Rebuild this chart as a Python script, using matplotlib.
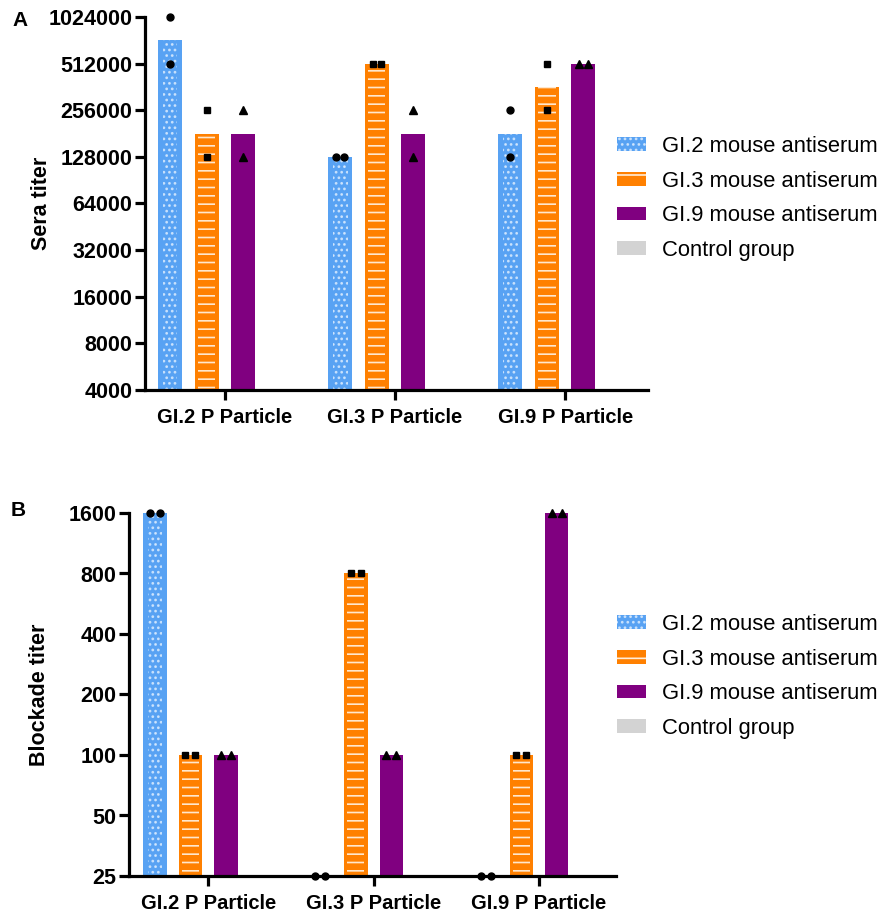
import numpy as np
import matplotlib
matplotlib.use("Agg")
import matplotlib.pyplot as plt
from matplotlib.patches import Patch

plt.rcParams['font.family'] = ['Liberation Sans', 'DejaVu Sans']
plt.rcParams['hatch.linewidth'] = 1.2

# ---------------- data ----------------
particles = ["GI.2 P Particle", "GI.3 P Particle", "GI.9 P Particle"]
series = ["GI.2 mouse antiserum", "GI.3 mouse antiserum", "GI.9 mouse antiserum", "Control group"]

# Panel A: sera titer, two replicate mice per bar (rows = particle)
sera_gi2 = [[1024000, 512000], [128000, 128000], [256000, 128000]]
sera_gi3 = [[256000, 128000], [512000, 512000], [512000, 256000]]
sera_gi9 = [[256000, 128000], [256000, 128000], [512000, 512000]]
sera_ticks = [4000, 8000, 16000, 32000, 64000, 128000, 256000, 512000, 1024000]

# Panel B: blockade titer
block_gi2 = [[1600, 1600], [25, 25], [25, 25]]
block_gi3 = [[100, 100], [800, 800], [100, 100]]
block_gi9 = [[100, 100], [100, 100], [1600, 1600]]
block_ticks = [25, 50, 100, 200, 400, 800, 1600]

# ---------------- style ----------------
c_blue = '#58a2f3'
c_orange = '#ff8000'
c_purple = '#800080'
c_gray = '#d3d3d3'
colors = [c_blue, c_orange, c_purple, c_gray]
markers = ['o', 's', '^']
msizes = [5, 5, 6]
dot_col = (0.9, 0.95, 1.0, 0.75)

fig = plt.figure(figsize=(8.83, 9.13), dpi=100)
W, H = 883, 913


def px_axes(l, r, t, b):
    return fig.add_axes([l / W, 1 - b / H, (r - l) / W, (b - t) / H])


def draw_panel(ax, data, ticks, ylabel, xlim, jit, label_x):
    G = 4.66
    bw = 0.66
    ymin, ymax = ticks[0], ticks[-1]
    ax.set_yscale('log')
    for si, reps in enumerate(data):
        for gi, vals in enumerate(reps):
            x = gi * G + (si - 1.5)
            gm = float(np.exp(np.mean(np.log(vals))))
            ax.bar(x, gm - ymin, bottom=ymin, width=bw, color=colors[si],
                   linewidth=0, zorder=1)
            if si == 0:
                ax.bar(x, gm - ymin, bottom=ymin, width=bw * 0.6,
                       facecolor='none', edgecolor=dot_col,
                       hatch='...', linewidth=0, zorder=1.1)
            elif si == 1:
                ax.bar(x, gm - ymin, bottom=ymin, width=bw * 0.72,
                       facecolor='none', edgecolor=(1, 0.93, 0.85, 0.95),
                       hatch='--', linewidth=0, zorder=1.1)
            if vals[0] == vals[1]:
                xs = [x - jit, x + jit]
            else:
                xs = [x, x]
            ax.plot(xs, vals, linestyle='none', marker=markers[si],
                    markersize=msizes[si], color='black', clip_on=False,
                    zorder=2)
    ax.set_ylim(ymin, ymax)
    ax.set_xlim(*xlim)
    ax.set_yticks(ticks)
    ax.set_yticklabels([str(t) for t in ticks])
    ax.yaxis.set_minor_locator(matplotlib.ticker.NullLocator())
    ax.set_xticks([gi * G for gi in range(len(particles))])
    ax.set_xticklabels(particles)
    for s in ['top', 'right']:
        ax.spines[s].set_visible(False)
    for s in ['left', 'bottom']:
        ax.spines[s].set_linewidth(2.3)
        ax.spines[s].set_zorder(3)
    ax.tick_params(axis='both', width=2.3, length=7)
    ax.tick_params(axis='y', pad=2, labelsize=15.5)
    ax.tick_params(axis='x', pad=6, labelsize=14.5)
    for lab in ax.get_xticklabels() + ax.get_yticklabels():
        lab.set_fontweight('bold')
    ax.set_ylabel(ylabel, fontsize=15.5, fontweight='bold')
    ax.yaxis.set_label_coords(label_x, 0.5)


axA = px_axes(145, 648, 17, 390)
draw_panel(axA, [sera_gi2, sera_gi3, sera_gi9], sera_ticks, "Sera titer",
           (-2.19, 11.59), 0.115, -0.185)

axB = px_axes(129, 616, 513, 876)
draw_panel(axB, [block_gi2, block_gi3, block_gi9], block_ticks, "Blockade titer",
           (-2.23, 11.49), 0.14, -0.162)

# legends
def legend_handles():
    hs = [
        Patch(facecolor=c_blue, edgecolor=dot_col, hatch='...', linewidth=0),
        Patch(facecolor=c_orange, edgecolor=(1, 0.93, 0.85), hatch='-', linewidth=0),
        Patch(facecolor=c_purple, linewidth=0),
        Patch(facecolor=c_gray, linewidth=0),
    ]
    return hs

for top in (136, 614):
    fig.legend(legend_handles(), series, loc='upper left',
               bbox_to_anchor=(617 / W, 1 - top / H), frameon=False,
               fontsize=15.8, borderpad=0, borderaxespad=0,
               handlelength=1.3, handleheight=0.6, handletextpad=0.75,
               labelspacing=0.62)

fig.text(20 / W, 1 - 20 / H, "A", fontsize=15, fontweight='bold',
         ha='center', va='center')
fig.text(18 / W, 1 - 511 / H, "B", fontsize=15, fontweight='bold',
         ha='center', va='center')

fig.savefig("out.png", dpi=100)
